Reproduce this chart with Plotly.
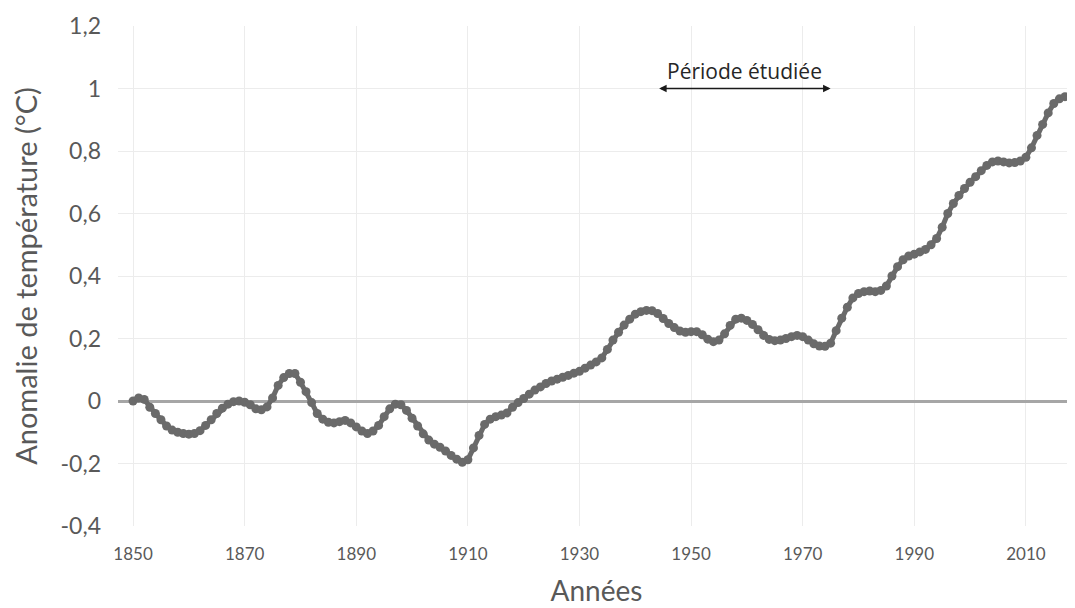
import plotly.graph_objects as go

# ---- data ----
years = list(range(1850, 2019))
anomaly = [
    0.000, 0.010, 0.005, -0.020, -0.040, -0.060, -0.080, -0.093, -0.100, -0.104,   # 1850-1859
    -0.106, -0.104, -0.095, -0.078, -0.060, -0.040, -0.023, -0.010, -0.002, 0.000,  # 1860-1869
    -0.004, -0.012, -0.025, -0.028, -0.019, 0.010, 0.050, 0.075, 0.088, 0.088,      # 1870-1879
    0.060, 0.030, -0.005, -0.040, -0.058, -0.068, -0.070, -0.066, -0.062, -0.070,   # 1880-1889
    -0.083, -0.096, -0.104, -0.096, -0.078, -0.050, -0.025, -0.010, -0.012, -0.030, # 1890-1899
    -0.055, -0.080, -0.105, -0.125, -0.138, -0.148, -0.160, -0.174, -0.186, -0.196, # 1900-1909
    -0.188, -0.150, -0.110, -0.075, -0.058, -0.050, -0.045, -0.038, -0.020, -0.005, # 1910-1919
    0.008, 0.022, 0.035, 0.045, 0.056, 0.064, 0.070, 0.076, 0.082, 0.089,           # 1920-1929
    0.095, 0.105, 0.115, 0.125, 0.138, 0.165, 0.195, 0.220, 0.243, 0.262,           # 1930-1939
    0.278, 0.286, 0.290, 0.289, 0.280, 0.264, 0.248, 0.235, 0.224, 0.220,           # 1940-1949
    0.222, 0.222, 0.212, 0.198, 0.190, 0.195, 0.215, 0.242, 0.262, 0.265,           # 1950-1959
    0.258, 0.245, 0.228, 0.210, 0.197, 0.193, 0.195, 0.200, 0.206, 0.210,           # 1960-1969
    0.206, 0.195, 0.183, 0.176, 0.175, 0.185, 0.225, 0.265, 0.300, 0.330,           # 1970-1979
    0.344, 0.350, 0.352, 0.350, 0.354, 0.368, 0.400, 0.430, 0.452, 0.464,           # 1980-1989
    0.470, 0.477, 0.485, 0.500, 0.520, 0.556, 0.600, 0.632, 0.658, 0.680,           # 1990-1999
    0.700, 0.718, 0.737, 0.754, 0.765, 0.768, 0.765, 0.762, 0.763, 0.768,           # 2000-2009
    0.780, 0.810, 0.850, 0.885, 0.922, 0.952, 0.967, 0.974, 0.977,                  # 2010-2018
]

x_tick_vals = [1850, 1870, 1890, 1910, 1930, 1950, 1970, 1990, 2010]
x_tick_text = ["1850", "1870", "1890", "1910", "1930", "1950", "1970", "1990", "2010"]
y_tick_vals = [-0.4, -0.2, 0, 0.2, 0.4, 0.6, 0.8, 1.0, 1.2]
y_tick_text = ["-0,4", "-0,2", "0", "0,2", "0,4", "0,6", "0,8", "1", "1,2"]

period_start, period_end = 1944, 1975
period_label = "Période étudiée"

grey = "#6a6a6a"
text_grey = "#595959"

fig = go.Figure()
fig.add_trace(go.Scatter(
    x=years, y=anomaly, mode="lines+markers",
    line=dict(color=grey, width=5),
    marker=dict(color=grey, size=9),
    showlegend=False, hoverinfo="x+y",
))

# double-headed arrow for the studied period
fig.add_annotation(
    x=period_end, y=1.0, ax=period_start, ay=1.0,
    xref="x", yref="y", axref="x", ayref="y",
    text="", showarrow=True, arrowhead=2, startarrowhead=2,
    arrowside="end+start", arrowsize=1, arrowwidth=1.5, arrowcolor="#1a1a1a",
)
fig.add_annotation(
    x=(period_start + period_end) / 2, y=1.0, xref="x", yref="y",
    yshift=18, text=period_label, showarrow=False,
    font=dict(family="Open Sans", size=21, color="#262626"),
)

fig.update_layout(
    width=1075, height=608,
    margin=dict(l=110, r=8, t=18, b=90, autoexpand=False),
    paper_bgcolor="white", plot_bgcolor="white",
    font=dict(family="Lato", color=text_grey),
)
fig.update_xaxes(
    range=[1847.3, 2018.8],
    tickvals=x_tick_vals, ticktext=x_tick_text,
    tickfont=dict(family="Lato", size=17, color=text_grey),
    showgrid=True, gridcolor="#ececec", gridwidth=1,
    zeroline=False, showline=False, ticks="", ticklabelstandoff=16,
    automargin=False,
    title=dict(text="Années", font=dict(family="Lato", size=28, color=text_grey), standoff=18),
)
fig.update_yaxes(
    range=[-0.4, 1.2],
    tickvals=y_tick_vals, ticktext=y_tick_text,
    tickfont=dict(family="Lato", size=23, color=text_grey),
    showgrid=True, gridcolor="#ececec", gridwidth=1,
    zeroline=True, zerolinecolor="#a6a6a6", zerolinewidth=3,
    showline=False, ticks="", ticklabelstandoff=16,
    automargin=False,
    title=dict(text="Anomalie de température (°C)",
               font=dict(family="Lato", size=29, color=text_grey), standoff=15),
)

fig.write_html("out.html")
